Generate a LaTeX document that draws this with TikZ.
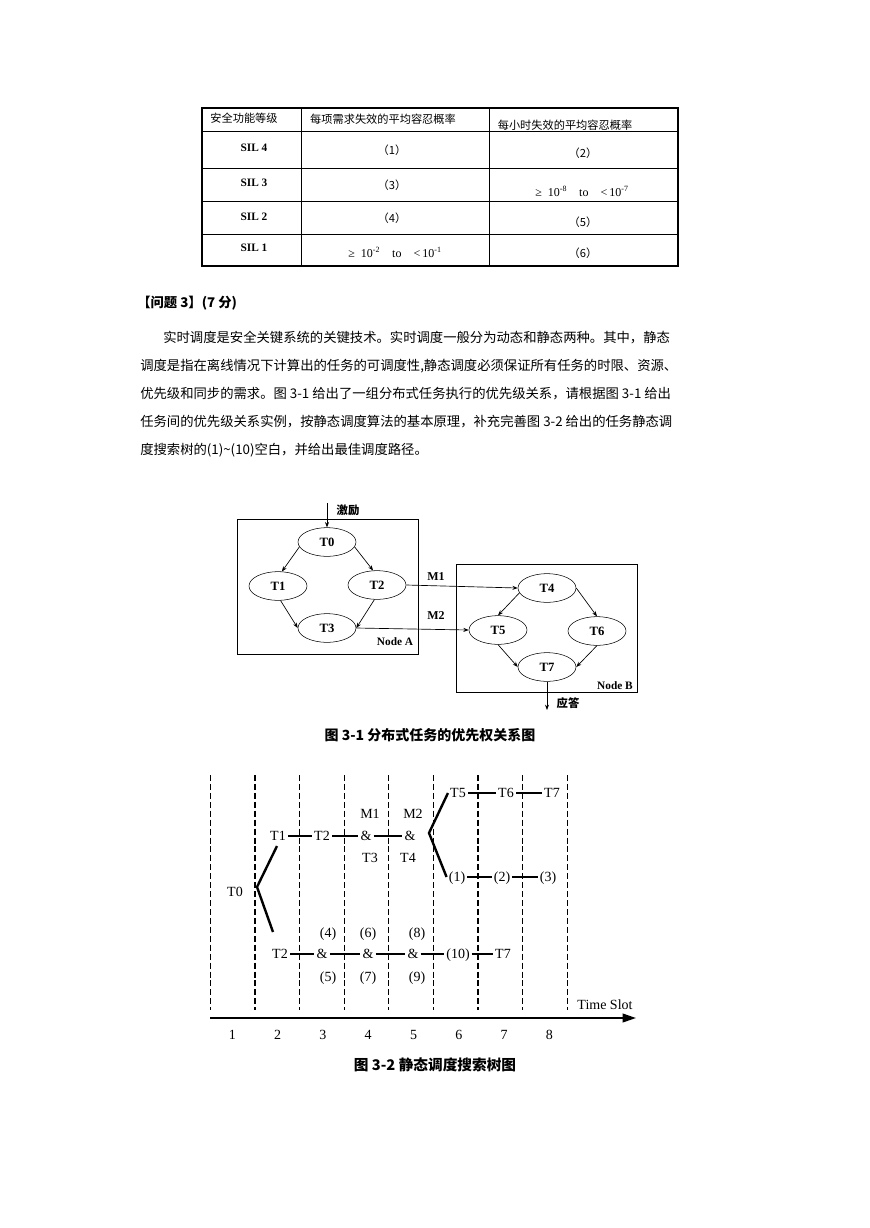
\documentclass[tikz,border=0pt]{standalone}
\usepackage{fontspec}
\setmainfont{Liberation Serif}
\newfontfamily\cjk{Noto Sans CJK SC}
\usetikzlibrary{shapes.geometric,arrows.meta}

\tikzset{
  task/.style={draw, ellipse, minimum width=43.5pt, minimum height=21.5pt, inner sep=0pt,
    font=\fontsize{9.5}{11}\selectfont\bfseries},
  link/.style={-{Stealth[length=4pt,width=3pt]}, line width=0.5pt},
  slot/.style={dash pattern=on 4.5pt off 2.2pt, line width=0.9pt},
  leaf/.style={inner sep=1.5pt, text height=1.65ex, text depth=0.3ex,
    font=\fontsize{10.5}{12}\selectfont},
  bar/.style={line width=1.8pt},
  branch/.style={line width=1.8pt},
  cell/.style={font=\fontsize{8.5}{10}\selectfont\bfseries},
  headcell/.style={font=\cjk\fontsize{8.4}{10}\selectfont},
  zh/.style={font=\cjk\fontsize{10}{12}\selectfont, anchor=west, inner sep=0pt},
  caption/.style={font=\cjk\fontsize{10.5}{12}\selectfont\bfseries},
}

\begin{document}
\begin{tikzpicture}[x=0.75pt,y=-0.75pt]
    \fill[white] (0,0) rectangle (869,1228);
    \useasboundingbox (0,0) rectangle (869,1228);

    % Table
    \draw[line width=0.8pt] (202,108) rectangle (678,266);
    \foreach \y in {131,168,201,234} \draw[line width=0.6pt] (202,\y) -- (678,\y);
    \draw[line width=0.6pt] (301,108) -- (301,266);
    \draw[line width=0.6pt] (489,108) -- (489,266);

    \node[headcell] (h1) at (244,118) {安全功能等级};
    \node[headcell] (h2) at (383,119) {每项需求失效的平均容忍概率};
    \node[headcell] (h3) at (565,125) {每小时失效的平均容忍概率};

    \node[cell] (s4) at (254,148) {SIL 4};
    \node[cell] (s3) at (254,183) {SIL 3};
    \node[cell] (s2) at (254,217) {SIL 2};
    \node[cell] (s1) at (254,248) {SIL 1};

    \node[headcell] (q1) at (392,150) {（1）};
    \node[headcell] (q2) at (583,153) {（2）};
    \node[headcell] (q3) at (392,185) {（3）};
    \node[cell, font=\fontsize{9}{11}\selectfont] (r3) at (582,191)
        {≥\enspace 10\textsuperscript{-8}\quad to\quad <\,10\textsuperscript{-7}};
    \node[headcell] (q4) at (392,218) {（4）};
    \node[headcell] (q5) at (583,222) {（5）};
    \node[cell, font=\fontsize{9}{11}\selectfont] (r1) at (395,252)
        {≥\enspace 10\textsuperscript{-2}\quad to\quad <\,10\textsuperscript{-1}};
    \node[headcell] (q6) at (583,253) {（6）};

    % Question text
    \node[zh, font=\cjk\fontsize{10}{12}\selectfont\bfseries] (head) at (137,303) {【问题 3】(7 分)};
    \node[zh] (p1) at (163,338) {实时调度是安全关键系统的关键技术。实时调度一般分为动态和静态两种。其中，静态};
    \node[zh] (p2) at (140,366) {调度是指在离线情况下计算出的任务的可调度性,静态调度必须保证所有任务的时限、资源、};
    \node[zh] (p3) at (140,394) {优先级和同步的需求。图 3-1 给出了一组分布式任务执行的优先级关系，请根据图 3-1 给出};
    \node[zh] (p4) at (140,422) {任务间的优先级关系实例，按静态调度算法的基本原理，补充完善图 3-2 给出的任务静态调};
    \node[zh] (p5) at (140,450) {度搜索树的(1)\textasciitilde(10)空白，并给出最佳调度路径。};

    % Fig 3-1
    \draw[line width=0.6pt] (237,519) rectangle (418,654);
    \draw[line width=0.6pt] (456,564) rectangle (637,692);

    \node[task] (T0) at (327,542) {T0};
    \node[task] (T1) at (278,586) {T1};
    \node[task] (T2) at (377,585) {T2};
    \node[task] (T3) at (327,628) {T3};
    \node[task] (T4) at (547,588) {T4};
    \node[task] (T5) at (498,630) {T5};
    \node[task] (T6) at (597,631) {T6};
    \node[task] (T7) at (547,667) {T7};

    \coordinate (stim) at (327,503);
    \coordinate (resp) at (547,710);

    \draw[link] (stim) -- (T0.north);
    \draw[link] (T0.190) -- (T1.75);
    \draw[link] (T0.350) -- (T2.105);
    \draw[link] (T1.280) -- (T3.west);
    \draw[link] (T2.260) -- (T3.east);
    \draw[link] (T2.east) -- (T4.west);
    \draw[link] (T3.east) -- (T5.west);
    \draw[link] (T4.190) -- (T5.north);
    \draw[link] (T4.east) -- (T6.north);
    \draw[link] (T5.south) -- (T7.west);
    \draw[link] (T6.south) -- (T7.east);
    \draw[link] (T7.south) -- (resp);

    \node[font=\cjk\fontsize{8.5}{10}\selectfont\bfseries] (stimlabel) at (348,510) {激励};
    \node[font=\cjk\fontsize{8.5}{10}\selectfont\bfseries] (resplabel) at (568,703) {应答};
    \node[font=\fontsize{9}{10}\selectfont\bfseries] (m1) at (436,577) {M1};
    \node[font=\fontsize{9}{10}\selectfont\bfseries] (m2) at (436,616) {M2};
    \node[font=\fontsize{8.5}{10}\selectfont\bfseries] (nodeA) at (395,642) {Node A};
    \node[font=\fontsize{8.5}{10}\selectfont\bfseries] (nodeB) at (615,686) {Node B};

    \node[caption] (cap1) at (430,735) {图 3-1 分布式任务的优先权关系图};

    % Fig 3-2
    \foreach \i in {0,...,8}
        \draw[slot] ({210.4+44.6*\i},775) -- ({210.4+44.6*\i},1010);
    \foreach \n in {1,...,8}
        \node[font=\fontsize{10.5}{12}\selectfont] (n\n) at ({187+45.3*\n},1035) {\n};

    \coordinate (ax0) at (210,1018);
    \coordinate (ax1) at (636,1018);
    \draw[line width=1.3pt, -{Triangle[length=10pt,width=6.5pt]}] (ax0) -- (ax1);
    \node[font=\fontsize{10.5}{12}\selectfont] (tslot) at (605,1005) {Time Slot};

    \node[leaf] (t0) at (235,892) {T0};
    \coordinate (fork0) at (257,887);
    \coordinate (up0) at (277,846);
    \coordinate (dn0) at (273,932);
    \draw[branch] (up0) -- (fork0) -- (dn0);

    % upper path
    \node[leaf] (a1) at (278,836) {T1};
    \node[leaf] (a2) at (322,836) {T2};
    \node[leaf] (a3) at (366,836) {\&};
    \node[leaf] (a3u) at (370,814) {M1};
    \node[leaf] (a3d) at (370,858) {T3};
    \node[leaf] (a4) at (410,836) {\&};
    \node[leaf] (a4u) at (413,814) {M2};
    \node[leaf] (a4d) at (408,858) {T4};
    \draw[bar] (a1) -- (a2);
    \draw[bar] (a2) -- (a3);
    \draw[bar] (a3) -- (a4);

    \coordinate (fork1) at (429,833);
    \node[leaf] (b1) at (458,793) {T5};
    \node[leaf] (b2) at (506,793) {T6};
    \node[leaf] (b3) at (552,793) {T7};
    \node[leaf] (c1) at (457,877) {(1)};
    \node[leaf] (c2) at (502,877) {(2)};
    \node[leaf] (c3) at (548,877) {(3)};
    \draw[branch] (b1.west) -- (fork1) -- (c1.west);
    \draw[bar] (b1) -- (b2);
    \draw[bar] (b2) -- (b3);
    \draw[bar] (c1) -- (c2);
    \draw[bar] (c2) -- (c3);

    % lower path
    \node[leaf] (d1) at (280,954) {T2};
    \node[leaf] (d2) at (322,954) {\&};
    \node[leaf] (d2u) at (328,933) {(4)};
    \node[leaf] (d2d) at (328,977) {(5)};
    \node[leaf] (d3) at (368,954) {\&};
    \node[leaf] (d3u) at (368,933) {(6)};
    \node[leaf] (d3d) at (368,977) {(7)};
    \node[leaf] (d4) at (413,954) {\&};
    \node[leaf] (d4u) at (417,933) {(8)};
    \node[leaf] (d4d) at (417,977) {(9)};
    \node[leaf] (d5) at (458,954) {(10)};
    \node[leaf] (d6) at (503,954) {T7};
    \draw[bar] (d1) -- (d2);
    \draw[bar] (d2) -- (d3);
    \draw[bar] (d3) -- (d4);
    \draw[bar] (d4) -- (d5);
    \draw[bar] (d5) -- (d6);

    \node[caption, font=\cjk\fontsize{11}{13}\selectfont\bfseries] (cap2) at (435,1065) {图 3-2 静态调度搜索树图};
\end{tikzpicture}
\end{document}
